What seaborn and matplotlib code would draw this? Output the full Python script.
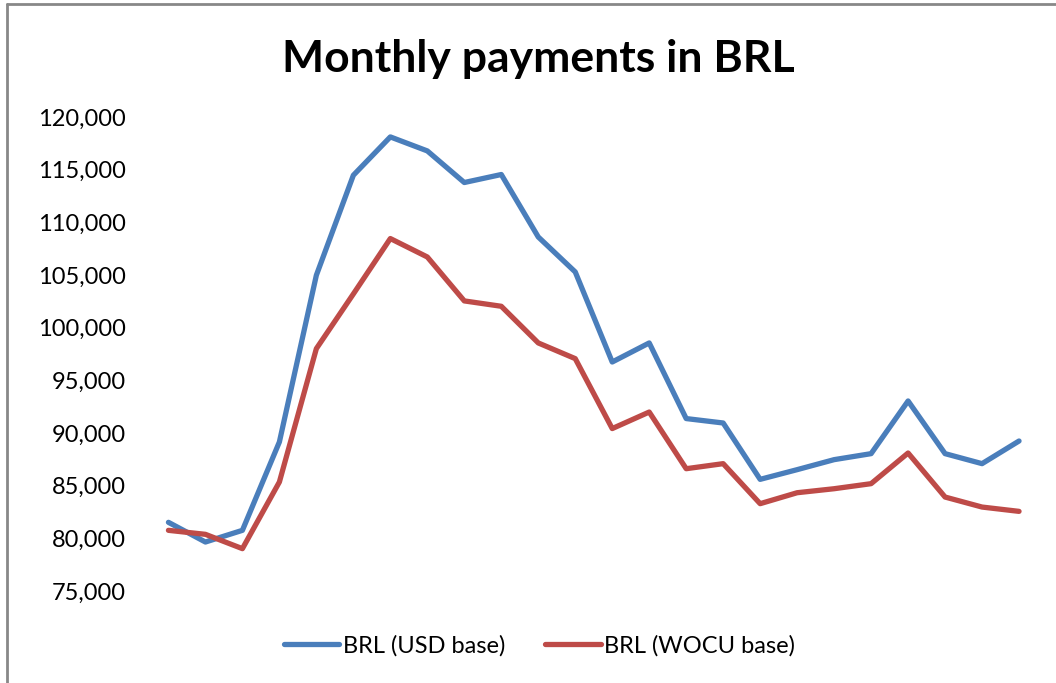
import pandas as pd
import matplotlib.pyplot as plt
import seaborn as sns
from matplotlib.lines import Line2D
from matplotlib.ticker import FuncFormatter

# 数据（从图中读取的月度值）
months = list(range(1, 25))
brl_usd = [81520, 79650, 80760, 89150, 104980, 114470, 118110, 116780,
           113780, 114540, 108610, 105290, 96740, 98550, 91370, 90950,
           85600, 86520, 87470, 88040, 93040, 88040, 87090, 89240]
brl_wocu = [80760, 80380, 79020, 85350, 98010, 103200, 108460, 106710,
            102540, 102030, 98550, 97060, 90420, 91990, 86610, 87090,
            83290, 84330, 84710, 85190, 88100, 83920, 82970, 82560]
series_names = ['BRL (USD base)', 'BRL (WOCU base)']
y_ticks = list(range(75000, 120001, 5000))

df = pd.DataFrame({
    'month': months * 2,
    'value': brl_usd + brl_wocu,
    'series': [series_names[0]] * len(months) + [series_names[1]] * len(months),
})

sns.set_style('white')
plt.rcParams['font.family'] = ['Lato', 'DejaVu Sans']
plt.rcParams['text.color'] = 'black'
plt.rcParams['ytick.color'] = 'black'

fig = plt.figure(figsize=(10.56, 6.83), dpi=100)
ax = fig.add_axes([0.142, 0.1347, 0.8405, 0.694])

sns.lineplot(data=df, x='month', y='value', hue='series',
             palette=['#4A7EBB', '#BE4B48'], linewidth=3.8,
             ax=ax, legend=False)

ax.set_xlim(0.5, 24.5)
ax.set_ylim(75000, 120000)
ax.set_yticks(y_ticks)
ax.yaxis.set_major_formatter(FuncFormatter(lambda v, p: f'{int(v):,}'))
ax.tick_params(axis='y', length=0, labelsize=17, pad=17.5, labelcolor='black')
ax.set_xticks([])
ax.set_xlabel('')
ax.set_ylabel('')
for s in ax.spines.values():
    s.set_visible(False)

fig.text(0.51, 0.914, 'Monthly payments in BRL', fontsize=32, fontweight='bold',
         ha='center', va='center', color='black')

# 图例放在底部
handles = [Line2D([0], [0], color=c, lw=3.8) for c in ['#4A7EBB', '#BE4B48']]
leg = fig.legend(handles, series_names, loc='center', bbox_to_anchor=(0.511, 0.055),
                 ncol=2, frameon=False, fontsize=17, handlelength=2.35,
                 handletextpad=0.15, columnspacing=1.7)
for t in leg.get_texts():
    t.set_color('black')

# 外框（灰色）
fig.add_artist(Line2D([0.0066, 1.0], [0.9935, 0.9935], color='#888888', lw=2,
                      transform=fig.transFigure))
fig.add_artist(Line2D([0.0066, 0.0066], [0.0, 0.9935], color='#888888', lw=2,
                      transform=fig.transFigure))

fig.savefig('out.png', dpi=100)
plt.close(fig)
